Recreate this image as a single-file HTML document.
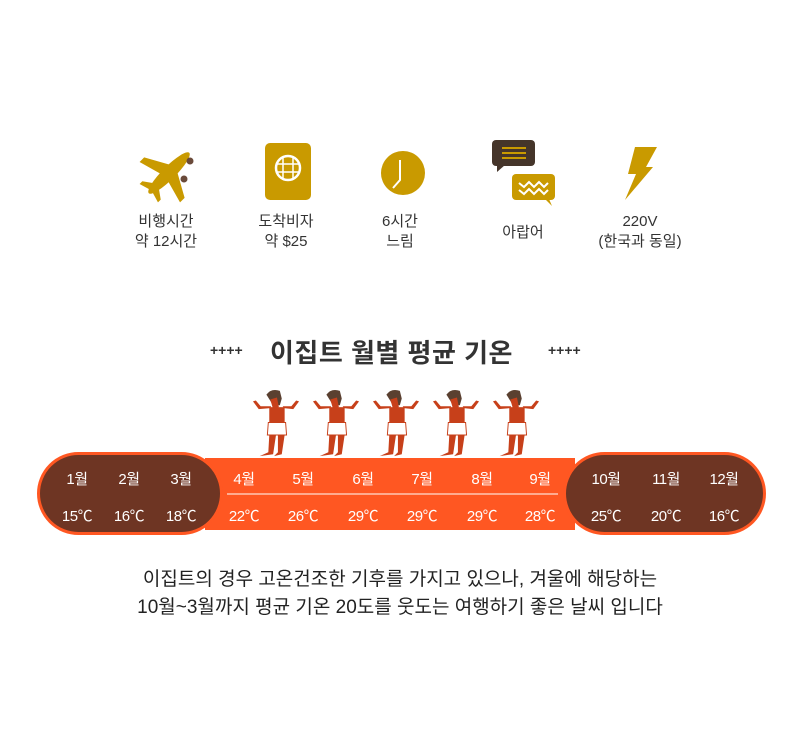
<!DOCTYPE html>
<html><head><meta charset="utf-8"><style>
body{margin:0;width:800px;height:744px;background:#fff;position:relative;overflow:hidden;font-family:"Liberation Sans","Noto Sans CJK KR",sans-serif;}
.a{position:absolute;}
.lbl{position:absolute;width:120px;text-align:center;font-size:15px;line-height:20px;color:#333;}
.w{position:absolute;color:#fff;font-size:15px;width:60px;text-align:center;letter-spacing:-0.5px;}
</style></head><body>
<svg width="800" height="744" class="a" style="left:0;top:0">
<defs>
<symbol id="man" viewBox="0 0 60 75">
<path d="M20 8 Q25 1 34 4 L36 12 L34 19 L27 19 Z" fill="#5a4030"/>
<path d="M24 13 L31 11 L33 21 L27 23 Z" fill="#c7401a"/>
<rect x="23" y="21" width="16" height="17" fill="#c7401a"/>
<path d="M24 22 L12 23 L6 15 L9 14 L14 20 L25 20 Z" fill="#c7401a"/>
<path d="M38 22 L48 23 L54 15 L51 14 L46 20 L37 20 Z" fill="#c7401a"/>
<path d="M22 37 L40 37 L41 50 L21 50 Z" fill="#fff" stroke="#c7401a" stroke-width="1"/>
<path d="M23 50 L30 50 L27 70 L13 72 L22 68 Z" fill="#c7401a"/>
<path d="M32 50 L39 50 L36 70 L28 72 L32 68 Z" fill="#c7401a"/>
</symbol>
</defs>
<!-- plane -->
<g transform="translate(169,173) rotate(45) scale(1.3)" fill="#c99a00">
<ellipse cx="0" cy="0" rx="5" ry="22"/>
<path d="M-4 -5 L-22 5 L-22 10 L-4 5 Z M4 -5 L22 5 L22 10 L4 5 Z"/>
<path d="M-3 14 L-10 19 L-10 22 L0 19 L10 22 L10 19 L3 14Z"/>
</g>
<circle cx="190" cy="161" r="3.5" fill="#6a4a3a"/><circle cx="184" cy="179" r="3.5" fill="#6a4a3a"/>
<!-- passport -->
<rect x="265" y="143" width="46" height="57" rx="5" fill="#c99a00"/>
<circle cx="288" cy="168" r="12" fill="none" stroke="#fff" stroke-width="2.5"/>
<g stroke="#fff" stroke-width="1.5"><line x1="276" y1="164" x2="300" y2="164"/><line x1="276" y1="172" x2="300" y2="172"/><line x1="283" y1="156" x2="283" y2="180"/><line x1="293" y1="156" x2="293" y2="180"/></g>
<!-- clock -->
<circle cx="403" cy="173" r="22" fill="#c99a00"/>
<polyline points="400,160 400,180 393,188" fill="none" stroke="#fff" stroke-width="2"/>
<!-- chat -->
<rect x="492" y="140" width="43" height="26" rx="4" fill="#45352a"/>
<path d="M497 165 L497 172 L505 165Z" fill="#45352a"/>
<g stroke="#c99a00" stroke-width="2"><line x1="502" y1="148" x2="526" y2="148"/><line x1="502" y1="153" x2="526" y2="153"/><line x1="502" y1="158" x2="526" y2="158"/></g>
<rect x="512" y="174" width="43" height="26" rx="4" fill="#c99a00"/>
<path d="M545 199 L552 206 L549 199Z" fill="#c99a00"/>
<polyline points="519,183 524,187 529,182 534,187 539,182 544,187 548,183" fill="none" stroke="#fff" stroke-width="2"/>
<polyline points="519,190 524,194 529,189 534,194 539,189 544,194 548,190" fill="none" stroke="#fff" stroke-width="2"/>
<!-- bolt -->
<path d="M635 147 L657 147 L646 167 L653 167 L625 200 L636 174 L628 174 Z" fill="#c99a00"/>
<!-- bar -->
<rect x="205" y="458" width="370" height="72" fill="#ff5722"/>
<line x1="227" y1="494" x2="558" y2="494" stroke="#fff" stroke-width="1"/>
<rect x="38.5" y="453.5" width="183" height="80" rx="40" fill="#6e3523" stroke="#ff5722" stroke-width="3"/>
<rect x="564.5" y="453.5" width="200" height="80" rx="40" fill="#6e3523" stroke="#ff5722" stroke-width="3"/>
<use href="#man" x="246" y="387" width="60" height="72"/>
<use href="#man" x="306" y="387" width="60" height="72"/>
<use href="#man" x="366" y="387" width="60" height="72"/>
<use href="#man" x="426" y="387" width="60" height="72"/>
<use href="#man" x="486" y="387" width="60" height="72"/>
</svg>
<div class="lbl" style="left:106px;top:212px">비행시간<br>약 12시간</div>
<div class="lbl" style="left:226px;top:212px">도착비자<br>약 $25</div>
<div class="lbl" style="left:340px;top:212px">6시간<br>느림</div>
<div class="lbl" style="left:463px;top:223px">아랍어</div>
<div class="lbl" style="left:580px;top:212px">220V<br>(한국과 동일)</div>
<div class="a" style="left:210px;top:342px;font-size:14px;font-weight:bold;color:#333">++++</div>
<div class="a" style="left:548px;top:342px;font-size:14px;font-weight:bold;color:#333">++++</div>
<div class="a" style="left:270px;top:333px;font-size:26px;font-weight:bold;color:#333;letter-spacing:0.5px">이집트 월별 평균 기온</div>
<div class="w" style="left:47px;top:468px">1월</div><div class="w" style="left:47px;top:505px">15℃</div>
<div class="w" style="left:99px;top:468px">2월</div><div class="w" style="left:99px;top:505px">16℃</div>
<div class="w" style="left:151px;top:468px">3월</div><div class="w" style="left:151px;top:505px">18℃</div>
<div class="w" style="left:214px;top:468px">4월</div><div class="w" style="left:214px;top:505px">22℃</div>
<div class="w" style="left:273px;top:468px">5월</div><div class="w" style="left:273px;top:505px">26℃</div>
<div class="w" style="left:333px;top:468px">6월</div><div class="w" style="left:333px;top:505px">29℃</div>
<div class="w" style="left:392px;top:468px">7월</div><div class="w" style="left:392px;top:505px">29℃</div>
<div class="w" style="left:452px;top:468px">8월</div><div class="w" style="left:452px;top:505px">29℃</div>
<div class="w" style="left:510px;top:468px">9월</div><div class="w" style="left:510px;top:505px">28℃</div>
<div class="w" style="left:576px;top:468px">10월</div><div class="w" style="left:576px;top:505px">25℃</div>
<div class="w" style="left:636px;top:468px">11월</div><div class="w" style="left:636px;top:505px">20℃</div>
<div class="w" style="left:694px;top:468px">12월</div><div class="w" style="left:694px;top:505px">16℃</div>
<div class="a" style="left:0;width:800px;top:566px;text-align:center;font-size:19px;line-height:28px;color:#222">이집트의 경우 고온건조한 기후를 가지고 있으나, 겨울에 해당하는<br>10월~3월까지 평균 기온 20도를 웃도는 여행하기 좋은 날씨 입니다</div>
</body></html>
